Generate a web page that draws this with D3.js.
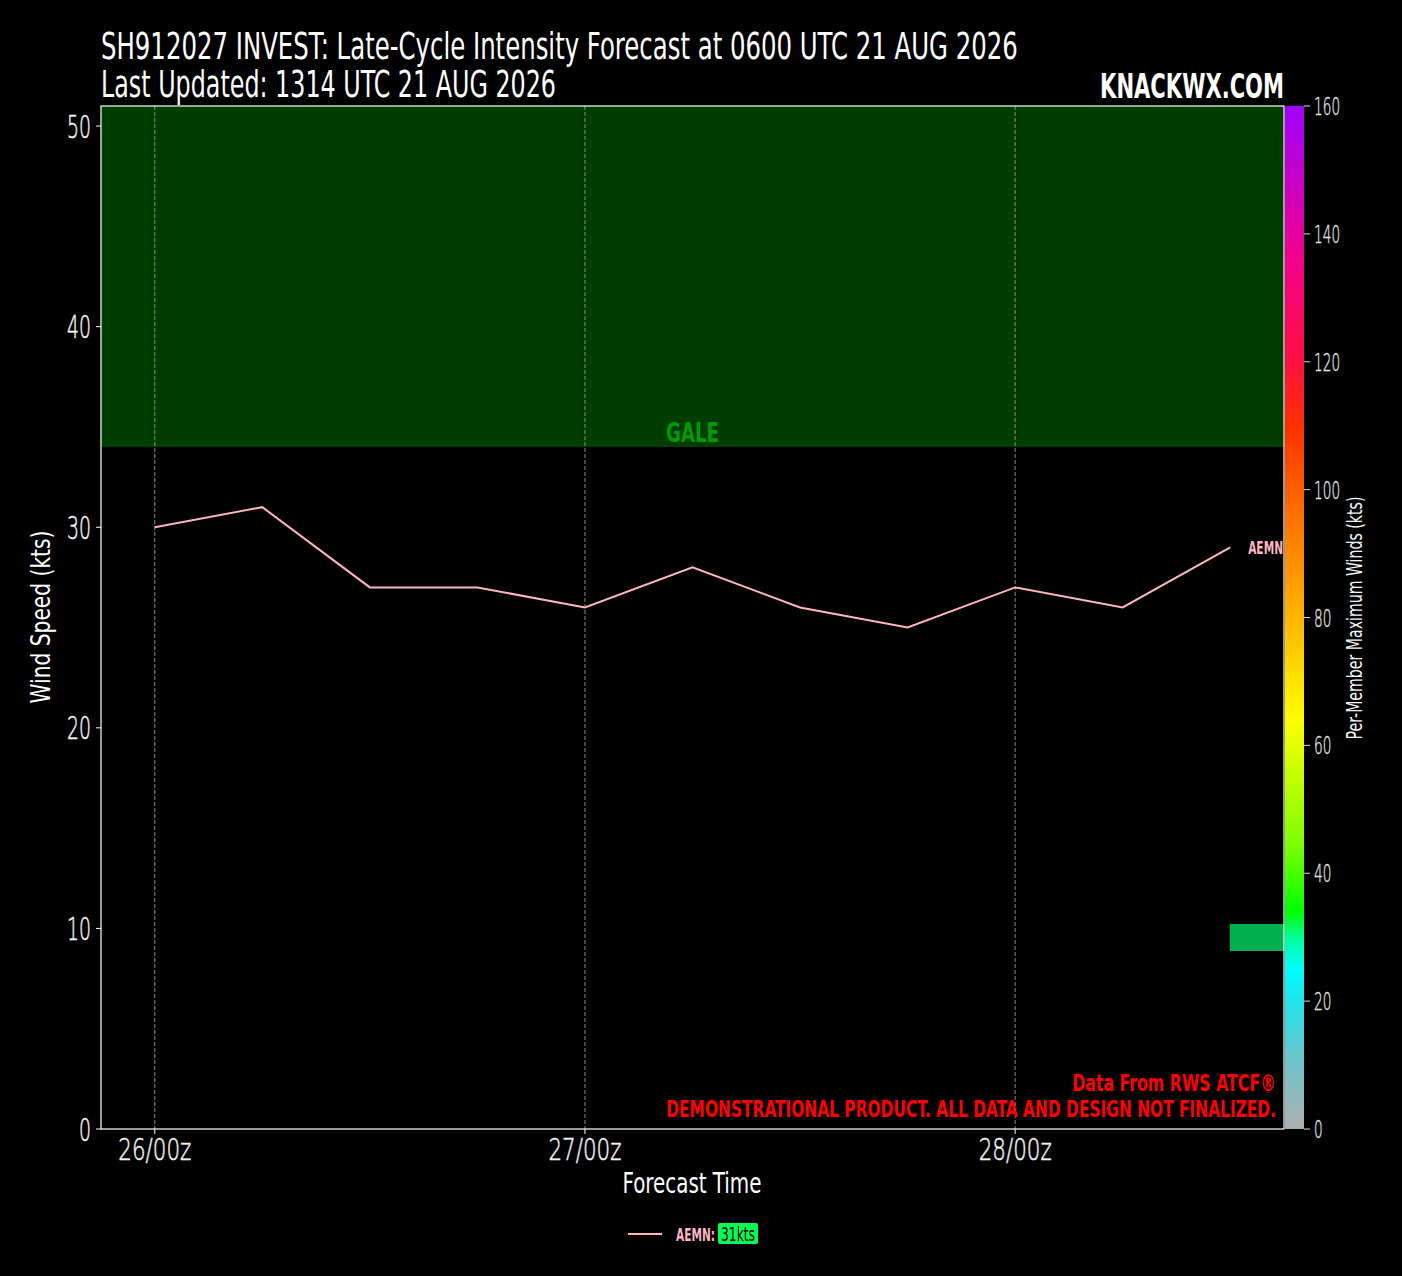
<!DOCTYPE html>
<html><head><meta charset="utf-8">
<script src="https://cdn.jsdelivr.net/npm/d3@7"></script>
<style>
html,body{margin:0;padding:0;background:#000;}
svg{display:block;}
text{font-family:'DejaVu Sans Condensed','DejaVu Sans',sans-serif;}
</style></head>
<body>
<svg id="chart" width="1402" height="1276"></svg>
<script>
// ---- data ----
const forecastHours = [0, 6, 12, 18, 24, 30, 36, 42, 48, 54, 60];
const aemnWinds = [30, 31, 27, 27, 26, 28, 26, 25, 27, 26, 29];
const xTickHours = [0, 24, 48];
const xTickLabels = ["26/00z", "27/00z", "28/00z"];
const yTicks = [0, 10, 20, 30, 40, 50];
const cbarTicks = [0, 20, 40, 60, 80, 100, 120, 140, 160];
const galeThreshold = 34;
const markerHours = [60, 63];
const markerWinds = [8.9, 10.2];
const legendValue = 31;
const cmapStops = [0, 10, 20, 25, 30, 34, 45, 64, 80, 96, 110, 120, 137, 160];
const cmapColors = ["#b0b0b0", "#72c2c8", "#22e2ea", "#00ffff", "#00ff99", "#00ff00", "#80ff00",
  "#ffff00", "#ffb400", "#ff7000", "#ff3000", "#ff1040", "#f00090", "#a000ff"];
const titleLines = ["SH912027 INVEST: Late-Cycle Intensity Forecast at 0600 UTC 21 AUG 2026",
  "Last Updated: 1314 UTC 21 AUG 2026"];

// ---- layout ----
const L = 101, R = 1284, T = 106, B = 1129;
const svg = d3.select("#chart");
svg.append("rect").attr("width", 1402).attr("height", 1276).attr("fill", "#000");

const x = d3.scaleLinear().domain([-3, 63]).range([L, R]);
const y = d3.scaleLinear().domain([0, 51]).range([B, T]);
const cy = d3.scaleLinear().domain([0, 160]).range([B, T]);

// fitted text: anchor point (x, y) = baseline position, width w, cap height cap
const CAP = 0.729;
function fitText(parent, str, o) {
  const fs = 20;
  const g = parent.append("g");
  const t = g.append("text").attr("x", 0).attr("y", 0).attr("font-size", fs)
    .attr("text-anchor", o.anchor || "start").attr("fill", o.fill || "#fff")
    .attr("font-weight", o.weight || "normal").text(str);
  if (o.family) t.style("font-family", o.family);
  if (o.stroke) t.attr("stroke", o.fill || "#fff").attr("stroke-width", o.stroke);
  const w = t.node().getComputedTextLength();
  const sx = o.w / w, sy = o.cap / (CAP * fs);
  g.attr("transform", `translate(${o.x},${o.y})` + (o.rotate ? ` rotate(${o.rotate})` : "") + ` scale(${sx},${sy})`);
  return g;
}

// gale band
svg.append("rect").attr("x", L).attr("y", y(51)).attr("width", R - L)
  .attr("height", y(galeThreshold) - y(51)).attr("fill", "#003d00");
fitText(svg, "GALE", {x: x(30), y: y(galeThreshold) - 5, w: 53, cap: 20, anchor: "middle", fill: "#009a00", weight: "bold"});

// vertical dashed grid
svg.append("g").selectAll("line").data(xTickHours).join("line")
  .attr("x1", d => x(d)).attr("x2", d => x(d)).attr("y1", T).attr("y2", B)
  .attr("stroke", "#8a8a8a").attr("stroke-width", 1).attr("stroke-dasharray", "4,2");

// marker bar
svg.append("rect").attr("x", x(markerHours[0])).attr("y", y(markerWinds[1]))
  .attr("width", x(markerHours[1]) - x(markerHours[0]))
  .attr("height", y(markerWinds[0]) - y(markerWinds[1]))
  .attr("fill", "#00b04e").attr("stroke", "#10c060").attr("stroke-width", 0.8);

// line
const line = d3.line().x((d, i) => x(forecastHours[i])).y(d => y(d));
svg.append("path").datum(aemnWinds).attr("d", line).attr("fill", "none")
  .attr("stroke", "#ffb6c1").attr("stroke-width", 2);
fitText(svg, "AEMN", {x: x(forecastHours[forecastHours.length - 1] + 1), y: y(aemnWinds[aemnWinds.length - 1]) + 6.5,
  w: 35, cap: 13, fill: "#ffb6c1", weight: "bold"});

// spines
svg.append("rect").attr("x", L).attr("y", T).attr("width", R - L).attr("height", B - T)
  .attr("fill", "none").attr("stroke", "#fff").attr("stroke-width", 1.2);

const thin = "'DejaVu Sans','DejaVu Sans Condensed',sans-serif";
// y axis ticks
const yg = svg.append("g");
yg.selectAll("line").data(yTicks).join("line")
  .attr("x1", L - 5).attr("x2", L).attr("y1", d => y(d)).attr("y2", d => y(d))
  .attr("stroke", "#fff");
yTicks.forEach(d => fitText(yg, String(d), {x: 91, y: y(d) + 11.5, w: String(d).length * 12, cap: 23,
  anchor: "end", fill: "#f2f2f2", weight: 200, family: thin, stroke: 0.35}));

// x axis ticks
const xg = svg.append("g");
xg.selectAll("line").data(xTickHours).join("line")
  .attr("x1", d => x(d)).attr("x2", d => x(d)).attr("y1", B).attr("y2", B + 5)
  .attr("stroke", "#fff");
xTickHours.forEach((d, i) => fitText(xg, xTickLabels[i], {x: x(d), y: 1160, w: 73, cap: 22,
  anchor: "middle", fill: "#f2f2f2", weight: 200, family: thin, stroke: 0.35}));

// axis labels
fitText(svg, "Forecast Time", {x: 692, y: 1193, w: 139, cap: 21, anchor: "middle"});
fitText(svg, "Wind Speed (kts)", {x: 50, y: 617, rotate: -90, w: 173, cap: 20, anchor: "middle"});

// two-line title as one text element
(function () {
  const fs = 20, sy = 27 / (CAP * fs);
  const g = svg.append("g");
  const t = g.append("text").attr("x", 0).attr("y", 0).attr("font-size", fs).attr("fill", "#fff");
  const s1 = t.append("tspan").attr("x", 0).attr("y", 0).text(titleLines[0]);
  const s2 = t.append("tspan").attr("x", 0).attr("y", 38 / sy).text(titleLines[1]);
  const w1 = s1.node().getComputedTextLength();
  const sx = 917 / w1;
  s2.attr("textLength", 455 / sx).attr("lengthAdjust", "spacingAndGlyphs");
  g.attr("transform", `translate(101,59) scale(${sx},${sy})`);
})();
fitText(svg, "KNACKWX.COM", {x: 1284, y: 98, w: 184, cap: 24, anchor: "end", weight: "bold"});

// red notices
fitText(svg, "Data From RWS ATCF®", {x: 1276, y: 1091, w: 204, cap: 17, anchor: "end", fill: "#ff0000", weight: "bold"});
fitText(svg, "DEMONSTRATIONAL PRODUCT. ALL DATA AND DESIGN NOT FINALIZED.", {x: 1276, y: 1117, w: 610, cap: 17, anchor: "end", fill: "#ff0000", weight: "bold"});

// colorbar
const defs = svg.append("defs");
const grad = defs.append("linearGradient").attr("id", "cbar")
  .attr("x1", 0).attr("y1", 1).attr("x2", 0).attr("y2", 0);
grad.selectAll("stop").data(cmapStops).join("stop")
  .attr("offset", d => d / 160).attr("stop-color", (d, i) => cmapColors[i]);
const CBL = 1285, CBR = 1304;
svg.append("rect").attr("x", CBL).attr("y", cy(160)).attr("width", CBR - CBL)
  .attr("height", cy(0) - cy(160)).attr("fill", "url(#cbar)");
const cg = svg.append("g");
cg.selectAll("line").data(cbarTicks).join("line")
  .attr("x1", CBR).attr("x2", CBR + 6).attr("y1", d => cy(d)).attr("y2", d => cy(d))
  .attr("stroke", "#ddd");
cbarTicks.forEach(d => fitText(cg, String(d), {x: 1314, y: cy(d) + 9, w: String(d).length * 8.7, cap: 18,
  fill: "#e4e4e4", weight: 200, family: thin, stroke: 0.3}));
fitText(svg, "Per-Member Maximum Winds (kts)", {x: 1362, y: 618, rotate: -90, w: 243, cap: 16, anchor: "middle", fill: "#f4f4f4"});

// legend
const lg = svg.append("g");
lg.append("line").attr("x1", 628).attr("x2", 662).attr("y1", 1234).attr("y2", 1234)
  .attr("stroke", "#ffb6c1").attr("stroke-width", 2);
fitText(lg, "AEMN:", {x: 676, y: 1240.5, w: 39, cap: 13, fill: "#ffb6c1", weight: "bold"});
lg.append("rect").attr("x", 718).attr("y", 1223).attr("width", 40).attr("height", 21).attr("rx", 2)
  .attr("fill", "#00ff55");
fitText(lg, legendValue + "kts", {x: 738, y: 1240.5, w: 34, cap: 14, anchor: "middle", fill: "#000"});
</script>
</body></html>
